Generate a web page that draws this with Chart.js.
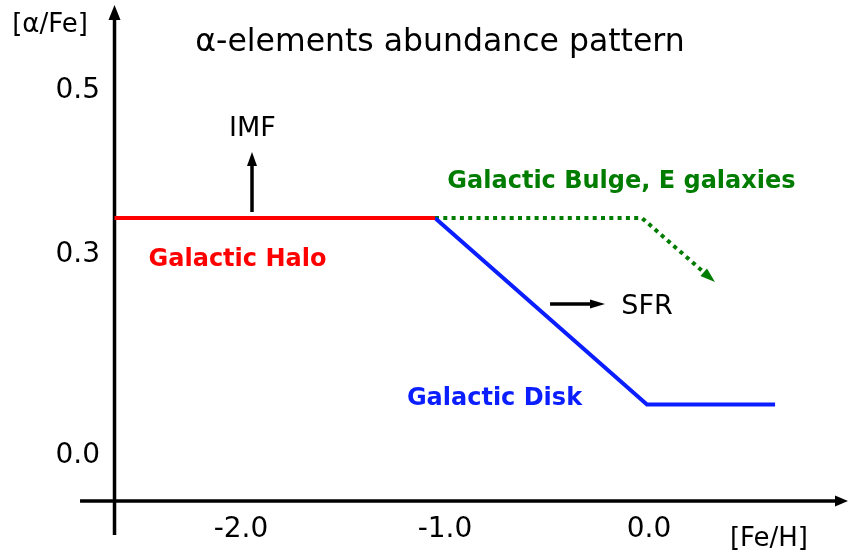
<!DOCTYPE html>
<html><head><meta charset="utf-8">
<script src="https://cdn.jsdelivr.net/npm/chart.js@4.4.1/dist/chart.umd.min.js"></script>
<style>html,body{margin:0;padding:0;background:#fff}#wrap{width:849px;height:555px}</style>
</head><body><div id="wrap"><canvas id="c" width="849" height="555"></canvas></div>
<script>
// ---- data (schematic values) ----
const xTickValues = [-2.0, -1.0, 0.0];
const xTickLabels = ['-2.0', '-1.0', '0.0'];
const yTickValues = [0.5, 0.3, 0.055];
const yTickLabels = ['0.5', '0.3', '0.0'];

const haloFeH = [-2.62, -1.049];
const haloAlpha = [0.345, 0.345];
const diskFeH = [-1.049, -0.01, 0.618];
const diskAlpha = [0.345, 0.1177, 0.1177];
const bulgeFeH = [-1.049, -0.034, 0.3235];
const bulgeAlpha = [0.345, 0.345, 0.267];
const imfFeH = [-1.946, -1.946];
const imfAlpha = [0.3524, 0.4256];
const sfrFeH = [-0.485, -0.2157];
const sfrAlpha = [0.2402, 0.2402];

// ---- layout / styling ----
const FONT = 'DejaVu Sans';
const toXY = (xs, ys) => xs.map((x, i) => ({x, y: ys[i]}));

const annotations = [
  {text: 'α-elements abundance pattern', x: -1.0245, y: 0.5591, size: 31.5, weight: 'normal', color: '#000'},
  {text: '[α/Fe]', x: -2.936, y: 0.5805, size: 26, weight: 'normal', color: '#000'},
  {text: '[Fe/H]', x: 0.588, y: -0.0467, size: 26, weight: 'normal', color: '#000'},
  {text: 'IMF', x: -1.9436, y: 0.4537, size: 27, weight: 'normal', color: '#000'},
  {text: 'SFR', x: -0.0098, y: 0.2366, size: 27, weight: 'normal', color: '#000'},
  {text: 'Galactic Halo', x: -2.0172, y: 0.294, size: 24, weight: 'bold', color: '#ff0000'},
  {text: 'Galactic Bulge, E galaxies', x: -0.135, y: 0.3896, size: 24, weight: 'bold', color: '#007d00'},
  {text: 'Galactic Disk', x: -0.7574, y: 0.125, size: 24, weight: 'bold', color: '#0a1eff'}
];

const axisFrame = {
  yAxisX: -2.62, yFrom: -0.0415, yTo: 0.6049,
  xAxisY: 0.0, xFrom: -2.789, xTo: 0.9755
};

function headGeom(chart, index) {
  const meta = chart.getDatasetMeta(index);
  const pts = meta.data;
  const a = pts[pts.length - 2], b = pts[pts.length - 1];
  const dx = b.x - a.x, dy = b.y - a.y, d = Math.hypot(dx, dy);
  return {tx: b.x, ty: b.y, ux: dx / d, uy: dy / d};
}
function drawHead(ctx, tx, ty, ux, uy, len, w, color) {
  const px = -uy, py = ux;
  const bx = tx - ux * len, by = ty - uy * len;
  ctx.beginPath();
  ctx.moveTo(tx, ty);
  ctx.lineTo(bx + px * w / 2, by + py * w / 2);
  ctx.lineTo(bx - px * w / 2, by - py * w / 2);
  ctx.closePath();
  ctx.fillStyle = color;
  ctx.fill();
}

const arrowPlugin = {
  id: 'arrows',
  beforeDatasetDraw(chart, args) {
    const ds = chart.data.datasets[args.index];
    if (!ds.arrowHead) return;
    const g = headGeom(chart, args.index);
    const ctx = chart.ctx;
    const L = ds.arrowHead.len, hw = 4;
    const px = -g.uy, py = g.ux;
    const bx = g.tx - g.ux * (L - 1), by = g.ty - g.uy * (L - 1);
    const ex = g.tx + g.ux * 4, ey = g.ty + g.uy * 4;
    ctx.save();
    ctx.beginPath();
    ctx.rect(0, 0, chart.width, chart.height);
    ctx.moveTo(bx + px * hw, by + py * hw);
    ctx.lineTo(ex + px * hw, ey + py * hw);
    ctx.lineTo(ex - px * hw, ey - py * hw);
    ctx.lineTo(bx - px * hw, by - py * hw);
    ctx.closePath();
    ctx.clip('evenodd');
  },
  afterDatasetDraw(chart, args) {
    const ds = chart.data.datasets[args.index];
    if (!ds.arrowHead) return;
    chart.ctx.restore();
    const g = headGeom(chart, args.index);
    drawHead(chart.ctx, g.tx, g.ty, g.ux, g.uy, ds.arrowHead.len, ds.arrowHead.w, ds.borderColor);
  },
  beforeDatasetsDraw(chart) {
    const ctx = chart.ctx, xs = chart.scales.x, ys = chart.scales.y;
    const f = axisFrame;
    ctx.save();
    ctx.strokeStyle = '#000';
    ctx.lineWidth = 3.5;
    ctx.lineCap = 'butt';
    // y axis
    const yx = xs.getPixelForValue(f.yAxisX);
    const yb = ys.getPixelForValue(f.yFrom), yt = ys.getPixelForValue(f.yTo);
    ctx.beginPath(); ctx.moveTo(yx, yb); ctx.lineTo(yx, yt + 8); ctx.stroke();
    drawHead(ctx, yx, yt, 0, -1, 15, 12, '#000');
    // x axis
    const xy = ys.getPixelForValue(f.xAxisY);
    const xl = xs.getPixelForValue(f.xFrom), xr = xs.getPixelForValue(f.xTo);
    ctx.beginPath(); ctx.moveTo(xl, xy); ctx.lineTo(xr - 8, xy); ctx.stroke();
    drawHead(ctx, xr, xy, 1, 0, 13, 11, '#000');
    ctx.restore();
  },
  afterDraw(chart) {
    const ctx = chart.ctx, xs = chart.scales.x, ys = chart.scales.y;
    ctx.save();
    ctx.textAlign = 'center';
    ctx.textBaseline = 'middle';
    for (const a of annotations) {
      ctx.font = `${a.weight} ${a.size}px "${FONT}"`;
      ctx.fillStyle = a.color;
      ctx.fillText(a.text, xs.getPixelForValue(a.x), ys.getPixelForValue(a.y));
    }
    ctx.restore();
  }
};

const lineStyle = {borderWidth: 4, pointRadius: 0, pointHoverRadius: 0, tension: 0, fill: false,
  borderCapStyle: 'butt', borderJoinStyle: 'miter'};

const zeroPad = s => { s.paddingLeft = 0; s.paddingRight = 0; s.paddingTop = 0; s.paddingBottom = 0; };

new Chart(document.getElementById('c'), {
  type: 'line',
  data: {
    datasets: [
      Object.assign({}, lineStyle, {label: 'Galactic Halo', data: toXY(haloFeH, haloAlpha), borderColor: '#ff0000'}),
      Object.assign({}, lineStyle, {label: 'Galactic Disk', data: toXY(diskFeH, diskAlpha), borderColor: '#0a1eff'}),
      Object.assign({}, lineStyle, {label: 'Galactic Bulge, E galaxies', data: toXY(bulgeFeH, bulgeAlpha),
        borderColor: '#007d00', borderWidth: 4, borderDash: [4, 4.3], arrowHead: {len: 15, w: 10}}),
      Object.assign({}, lineStyle, {label: 'IMF', data: toXY(imfFeH, imfAlpha), borderColor: '#000', borderWidth: 3.5, arrowHead: {len: 14, w: 10}}),
      Object.assign({}, lineStyle, {label: 'SFR', data: toXY(sfrFeH, sfrAlpha), borderColor: '#000', borderWidth: 3.5, arrowHead: {len: 15, w: 9}})
    ]
  },
  options: {
    responsive: false,
    animation: false,
    devicePixelRatio: 1,
    layout: {padding: {top: 20, left: 0, right: 0, bottom: 0}},
    plugins: {legend: {display: false}, tooltip: {enabled: false}, title: {display: false}},
    scales: {
      x: {
        type: 'linear', position: 'bottom', min: -2.6225, max: 0.9804,
        grid: {display: false, drawTicks: false}, border: {display: false},
        afterBuildTicks: s => { s.ticks = xTickValues.map(v => ({value: v})); },
        afterFit: s => { s.height = 54; zeroPad(s); },
        ticks: {padding: 12, autoSkip: false, maxRotation: 0, color: '#000',
          font: {family: FONT, size: 28}, callback: (v, i) => xTickLabels[i]}
      },
      y: {
        type: 'linear', position: 'left', min: 0, max: 0.5866,
        grid: {display: false, drawTicks: false}, border: {display: false},
        afterBuildTicks: s => { s.ticks = yTickValues.map(v => ({value: v})); },
        afterFit: s => { s.width = 114; zeroPad(s); },
        ticks: {padding: 14, autoSkip: false, color: '#000',
          font: {family: FONT, size: 28}, callback: (v, i) => yTickLabels[i]}
      }
    }
  },
  plugins: [arrowPlugin]
});
</script>
</body></html>
